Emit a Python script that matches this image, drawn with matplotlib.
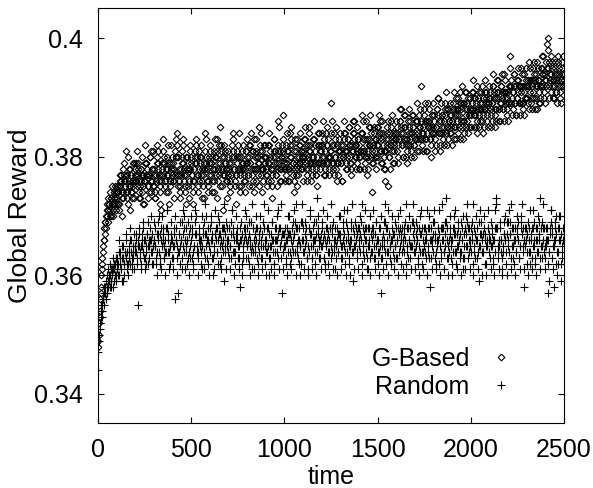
import numpy as np
import matplotlib
matplotlib.use("Agg")
import matplotlib.pyplot as plt

# rewards in units of 1e-3.
# "_a" lists: samples at t = 0, 4, 8, ... ; "_b" lists: samples at t = 2, 6, 10, ...
# (25 values per row = 100 time steps)
gbased_milli_a = [
    348, 350, 353, 356, 358, 361, 363, 365, 366, 367, 369, 368, 370, 371, 369, 372, 371, 370, 373, 372, 371, 374, 372, 373, 371,
    373, 375, 374, 372, 376, 375, 377, 374, 373, 378, 376, 375, 381, 377, 374, 372, 375, 376, 378, 377, 374, 373, 376, 379, 377,
    378, 376, 375, 379, 377, 374, 373, 376, 378, 380, 377, 375, 372, 376, 377, 379, 378, 375, 374, 377, 380, 381, 378, 376, 375,
    377, 374, 373, 376, 379, 381, 378, 377, 375, 371, 376, 378, 377, 380, 379, 376, 374, 377, 378, 382, 379, 376, 375, 378, 377,
    376, 379, 378, 381, 383, 380, 377, 375, 378, 376, 374, 377, 379, 380, 382, 378, 377, 375, 372, 378, 380, 379, 376, 378, 381,
    379, 377, 376, 374, 378, 380, 382, 379, 377, 375, 378, 381, 380, 377, 376, 373, 377, 379, 378, 384, 380, 378, 376, 375, 379,
    381, 379, 377, 380, 378, 376, 374, 378, 380, 383, 381, 378, 377, 375, 379, 382, 380, 378, 371, 377, 379, 381, 378, 376, 377,
    380, 378, 375, 377, 379, 382, 384, 380, 378, 376, 377, 379, 381, 378, 375, 374, 378, 380, 379, 382, 378, 377, 376, 379, 381,
    379, 377, 380, 382, 379, 378, 375, 377, 381, 383, 380, 378, 376, 378, 380, 379, 385, 381, 378, 377, 374, 378, 380, 382, 379,
    378, 380, 377, 376, 379, 382, 380, 378, 375, 377, 380, 383, 381, 379, 377, 378, 386, 381, 379, 376, 378, 380, 382, 387, 379,
    380, 378, 377, 381, 379, 376, 378, 382, 384, 380, 378, 377, 379, 381, 383, 379, 377, 375, 378, 380, 382, 379, 378, 381, 380,
    379, 381, 383, 380, 378, 377, 380, 382, 385, 381, 379, 376, 378, 380, 379, 383, 381, 378, 377, 380, 384, 382, 379, 378, 381,
    380, 382, 379, 377, 378, 381, 384, 382, 380, 379, 377, 380, 389, 381, 379, 378, 382, 384, 380, 378, 376, 379, 381, 383, 380,
    381, 379, 376, 380, 382, 384, 381, 379, 378, 381, 383, 385, 382, 380, 378, 379, 382, 381, 384, 386, 382, 380, 379, 381, 383,
    382, 380, 378, 381, 384, 386, 383, 381, 379, 382, 380, 377, 381, 383, 385, 382, 380, 374, 379, 382, 384, 381, 380, 383, 385,
    382, 380, 383, 386, 384, 381, 379, 382, 380, 378, 381, 383, 385, 382, 375, 380, 382, 384, 386, 383, 381, 379, 382, 384, 383,
    383, 385, 382, 380, 383, 386, 388, 384, 382, 380, 383, 385, 387, 383, 381, 379, 382, 384, 386, 383, 381, 384, 387, 385, 382,
    384, 386, 383, 381, 384, 387, 385, 383, 392, 384, 382, 385, 388, 386, 383, 381, 384, 386, 389, 385, 383, 382, 385, 387, 384,
    385, 387, 384, 382, 385, 388, 390, 386, 384, 381, 384, 387, 385, 383, 386, 389, 387, 384, 382, 385, 388, 386, 384, 387, 385,
    386, 388, 385, 383, 387, 390, 388, 386, 384, 387, 389, 391, 388, 385, 383, 386, 389, 391, 387, 385, 388, 390, 387, 385, 388,
    387, 389, 391, 388, 385, 387, 390, 388, 386, 384, 388, 391, 389, 386, 388, 392, 390, 387, 385, 388, 391, 389, 386, 388, 390,
    389, 391, 388, 386, 389, 392, 390, 387, 385, 388, 391, 393, 390, 388, 386, 389, 392, 390, 388, 391, 394, 391, 389, 387, 390,
    391, 389, 392, 397, 393, 390, 388, 391, 394, 392, 389, 387, 390, 393, 391, 389, 392, 395, 392, 389, 388, 391, 394, 392, 390,
    392, 390, 393, 396, 393, 391, 389, 392, 395, 393, 390, 388, 392, 394, 396, 393, 391, 389, 392, 395, 397, 394, 392, 390, 393,
    394, 392, 395, 398, 400, 396, 393, 391, 394, 396, 393, 390, 392, 395, 393, 391, 394, 397, 395, 392, 390, 393, 396, 394, 392,
    393,
]

gbased_milli_b = [
    349, 352, 354, 357, 360, 362, 364, 366, 368, 369, 370, 372, 371, 373, 372, 370, 374, 373, 375, 372, 370, 373, 375, 374, 372,
    374, 372, 371, 375, 377, 376, 373, 370, 374, 377, 379, 376, 374, 373, 377, 380, 378, 375, 371, 374, 376, 379, 375, 373, 376,
    377, 379, 381, 378, 376, 373, 375, 378, 377, 374, 372, 376, 379, 382, 379, 377, 375, 373, 377, 380, 376, 374, 378, 381, 378,
    375, 373, 377, 380, 382, 379, 376, 374, 372, 377, 379, 381, 383, 379, 376, 375, 378, 380, 377, 374, 372, 376, 379, 382, 380,
    378, 376, 373, 377, 380, 382, 384, 380, 377, 375, 373, 378, 381, 383, 379, 376, 374, 377, 380, 378, 375, 373, 378, 382, 380,
    377, 375, 372, 376, 379, 381, 383, 380, 377, 374, 376, 379, 382, 380, 378, 375, 373, 378, 381, 383, 379, 376, 374, 377, 380,
    382, 379, 376, 374, 378, 381, 383, 380, 377, 373, 376, 379, 382, 385, 381, 378, 375, 377, 380, 382, 379, 376, 373, 378, 381,
    379, 376, 374, 377, 380, 383, 381, 378, 375, 372, 377, 380, 382, 384, 380, 377, 375, 378, 381, 379, 376, 374, 378, 381, 383,
    380, 377, 375, 379, 382, 384, 381, 378, 376, 374, 378, 381, 383, 380, 377, 375, 379, 382, 384, 381, 378, 376, 379, 382, 380,
    377, 375, 379, 382, 384, 381, 378, 376, 373, 378, 381, 383, 380, 377, 375, 379, 382, 385, 381, 378, 376, 380, 383, 381, 378,
    376, 379, 382, 384, 381, 378, 376, 380, 383, 385, 382, 379, 376, 374, 378, 381, 383, 380, 377, 379, 382, 384, 381, 378, 376,
    380, 383, 385, 382, 379, 376, 378, 381, 384, 382, 379, 377, 380, 383, 386, 382, 379, 377, 375, 379, 382, 384, 381, 379, 382,
    384, 386, 383, 380, 377, 379, 382, 385, 383, 380, 378, 381, 384, 386, 382, 379, 377, 380, 383, 385, 382, 379, 377, 381, 384,
    382, 379, 376, 380, 383, 386, 384, 381, 378, 380, 383, 385, 382, 379, 377, 381, 384, 386, 383, 380, 378, 382, 385, 383, 380,
    378, 381, 384, 387, 384, 381, 378, 380, 383, 386, 383, 380, 378, 382, 385, 387, 384, 381, 379, 382, 385, 383, 380, 378, 382,
    385, 387, 384, 381, 379, 383, 386, 384, 381, 378, 376, 381, 384, 386, 383, 380, 378, 382, 385, 387, 384, 381, 379, 383, 386,
    384, 381, 379, 383, 386, 388, 385, 382, 380, 384, 387, 385, 382, 380, 383, 386, 388, 385, 382, 380, 384, 387, 385, 382, 380,
    383, 386, 389, 386, 383, 381, 385, 388, 386, 383, 381, 384, 387, 389, 386, 383, 381, 385, 388, 386, 383, 380, 384, 387, 389,
    386, 383, 381, 385, 388, 390, 387, 384, 382, 386, 389, 387, 384, 382, 385, 388, 391, 388, 385, 383, 386, 389, 387, 384, 382,
    386, 389, 391, 388, 385, 383, 387, 390, 388, 385, 383, 386, 389, 392, 389, 386, 384, 388, 391, 389, 386, 384, 387, 390, 388,
    385, 388, 391, 393, 390, 387, 385, 389, 392, 390, 387, 385, 388, 391, 389, 386, 384, 388, 391, 393, 390, 387, 385, 389, 392,
    390, 387, 385, 389, 392, 394, 391, 388, 386, 390, 393, 391, 388, 386, 389, 392, 394, 391, 388, 386, 390, 393, 391, 388, 386,
    389, 392, 395, 392, 389, 387, 391, 394, 392, 389, 387, 390, 393, 395, 392, 389, 387, 391, 394, 392, 389, 387, 390, 393, 395,
    392, 389, 388, 392, 395, 393, 390, 388, 391, 394, 396, 393, 390, 388, 392, 395, 393, 390, 389, 392, 395, 397, 394, 391, 389,
    393, 396, 399, 395, 392, 390, 394, 397, 395, 392, 390, 393, 396, 394, 391, 389, 393, 396, 394, 391, 389, 392, 395, 397, 394,
]

random_milli_a = [
    344, 349, 351, 352, 354, 353, 355, 356, 355, 357, 358, 356, 357, 359, 358, 360, 358, 359, 361, 360, 358, 361, 362, 360, 359,
    361, 363, 362, 360, 364, 362, 361, 365, 363, 359, 362, 364, 366, 363, 361, 362, 365, 364, 362, 366, 363, 361, 364, 367, 365,
    364, 366, 363, 355, 365, 367, 364, 362, 365, 366, 368, 364, 363, 366, 362, 365, 367, 369, 365, 363, 366, 364, 362, 367, 365,
    366, 368, 365, 363, 367, 369, 366, 364, 362, 366, 368, 370, 367, 365, 363, 366, 364, 368, 371, 366, 364, 362, 365, 367, 366,
    365, 363, 367, 356, 366, 368, 365, 357, 364, 367, 369, 366, 363, 361, 365, 368, 370, 366, 364, 362, 366, 369, 367, 365, 363,
    366, 368, 364, 362, 365, 367, 370, 367, 365, 363, 366, 368, 366, 364, 361, 365, 367, 369, 372, 367, 365, 363, 366, 368, 365,
    364, 366, 369, 367, 363, 361, 365, 367, 366, 364, 368, 370, 367, 365, 362, 366, 368, 366, 364, 359, 365, 367, 369, 366, 364,
    366, 368, 365, 363, 367, 371, 368, 366, 364, 362, 366, 368, 367, 365, 363, 358, 366, 369, 367, 365, 363, 366, 368, 370, 366,
    365, 363, 367, 369, 366, 364, 361, 365, 368, 366, 364, 367, 370, 368, 365, 362, 366, 368, 365, 363, 367, 369, 372, 368, 365,
    364, 366, 368, 365, 363, 360, 365, 367, 369, 366, 364, 362, 366, 368, 366, 364, 367, 371, 368, 365, 363, 366, 357, 367, 365,
    367, 365, 363, 366, 368, 370, 367, 364, 362, 366, 368, 366, 364, 367, 369, 372, 368, 365, 363, 366, 368, 365, 362, 366, 369,
    366, 364, 367, 369, 366, 363, 361, 365, 368, 370, 367, 365, 363, 366, 368, 366, 364, 367, 369, 373, 368, 365, 363, 366, 367,
    365, 368, 366, 363, 362, 366, 368, 370, 367, 364, 366, 368, 365, 363, 367, 369, 366, 364, 361, 365, 368, 366, 364, 367, 370,
    367, 365, 363, 366, 368, 365, 362, 366, 369, 371, 367, 365, 363, 366, 368, 366, 364, 359, 365, 367, 369, 366, 364, 367, 368,
    366, 364, 367, 369, 372, 368, 365, 363, 366, 368, 366, 363, 361, 365, 368, 370, 367, 364, 366, 368, 365, 363, 367, 369, 366,
    364, 366, 368, 365, 363, 357, 365, 367, 369, 366, 364, 362, 366, 368, 371, 367, 365, 363, 366, 368, 366, 364, 367, 369, 365,
    363, 366, 368, 370, 367, 365, 362, 366, 368, 366, 364, 367, 369, 372, 368, 365, 363, 366, 368, 365, 361, 365, 367, 369, 366,
    364, 367, 369, 366, 363, 365, 368, 370, 367, 364, 362, 366, 368, 366, 364, 367, 371, 368, 365, 363, 358, 366, 368, 366, 364,
    367, 369, 366, 364, 362, 366, 368, 371, 367, 365, 363, 366, 368, 366, 364, 367, 369, 373, 368, 365, 363, 366, 368, 365, 363,
    366, 368, 370, 367, 364, 362, 365, 367, 369, 366, 364, 367, 369, 366, 363, 361, 365, 368, 370, 367, 365, 363, 366, 368, 366,
    364, 367, 369, 372, 368, 365, 363, 366, 368, 366, 364, 359, 365, 367, 369, 366, 364, 367, 370, 367, 365, 362, 366, 368, 366,
    364, 366, 369, 367, 365, 363, 366, 368, 371, 373, 368, 365, 363, 366, 368, 366, 364, 361, 365, 367, 369, 366, 364, 367, 369,
    366, 364, 367, 369, 372, 368, 365, 363, 366, 368, 366, 364, 367, 369, 366, 363, 365, 368, 370, 367, 365, 358, 366, 368, 366,
    364, 367, 369, 366, 364, 362, 366, 368, 371, 368, 365, 363, 366, 368, 366, 364, 367, 369, 373, 368, 365, 363, 366, 368, 365,
    363, 366, 368, 366, 357, 364, 367, 369, 371, 368, 365, 358, 366, 368, 370, 367, 364, 362, 366, 368, 370, 367, 365, 363, 366,
    367,
]

random_milli_b = [
    347, 350, 352, 353, 355, 354, 356, 357, 358, 357, 359, 360, 358, 361, 359, 362, 360, 358, 361, 363, 361, 359, 362, 360, 363,
    362, 360, 364, 366, 363, 361, 359, 363, 365, 362, 360, 364, 367, 364, 362, 360, 363, 366, 368, 364, 362, 365, 363, 361, 365,
    367, 364, 362, 366, 368, 365, 363, 361, 365, 367, 369, 366, 363, 361, 364, 367, 365, 362, 366, 368, 370, 366, 364, 362, 366,
    369, 365, 362, 360, 364, 367, 370, 367, 363, 361, 365, 368, 366, 363, 360, 364, 368, 371, 367, 364, 361, 365, 369, 366, 363,
    361, 365, 368, 370, 366, 363, 360, 364, 367, 365, 362, 366, 369, 371, 367, 364, 361, 365, 368, 366, 363, 360, 364, 368, 370,
    367, 363, 361, 365, 369, 371, 367, 364, 360, 364, 367, 365, 362, 366, 370, 368, 364, 361, 363, 367, 370, 366, 362, 360, 365,
    368, 370, 366, 363, 360, 364, 367, 371, 368, 364, 362, 366, 369, 367, 363, 361, 365, 368, 372, 368, 364, 361, 365, 368, 366,
    363, 361, 365, 369, 371, 367, 364, 360, 364, 367, 370, 366, 363, 361, 365, 368, 366, 362, 360, 364, 368, 371, 367, 363, 365,
    368, 366, 362, 360, 365, 369, 372, 368, 364, 361, 365, 368, 366, 363, 360, 364, 367, 370, 366, 363, 361, 365, 368, 366, 362,
    360, 364, 368, 371, 367, 363, 361, 365, 369, 366, 362, 360, 364, 368, 370, 366, 363, 361, 365, 368, 372, 367, 364, 361, 365,
    368, 366, 362, 360, 364, 367, 370, 367, 363, 361, 365, 369, 371, 367, 364, 360, 364, 368, 366, 362, 360, 365, 369, 372, 368,
    364, 361, 365, 368, 366, 363, 360, 364, 368, 371, 367, 363, 361, 365, 369, 366, 362, 360, 364, 367, 370, 366, 363, 361, 365,
    369, 371, 367, 363, 361, 365, 368, 366, 362, 360, 364, 368, 372, 368, 364, 361, 365, 368, 366, 363, 360, 364, 367, 370, 366,
    363, 361, 365, 369, 371, 367, 364, 360, 364, 368, 366, 362, 360, 365, 369, 372, 368, 364, 361, 365, 368, 366, 363, 361, 365,
    368, 370, 366, 362, 360, 364, 367, 371, 368, 364, 361, 365, 368, 366, 363, 360, 364, 368, 371, 367, 363, 361, 365, 369, 366,
    362, 360, 364, 368, 370, 366, 363, 361, 365, 369, 372, 368, 364, 360, 364, 367, 365, 362, 366, 370, 367, 363, 361, 365, 368,
    366, 363, 360, 364, 368, 371, 367, 364, 361, 365, 368, 366, 362, 360, 364, 368, 370, 366, 363, 361, 365, 369, 372, 368, 364,
    361, 365, 368, 366, 362, 360, 364, 367, 371, 368, 364, 361, 365, 368, 366, 363, 360, 364, 368, 370, 366, 363, 361, 365, 369,
    371, 367, 363, 361, 365, 368, 366, 362, 360, 364, 368, 372, 368, 364, 361, 365, 369, 366, 363, 360, 364, 367, 370, 366, 362,
    360, 364, 368, 371, 367, 364, 361, 365, 368, 366, 363, 360, 364, 368, 370, 367, 363, 361, 365, 369, 372, 368, 364, 361, 365,
    368, 366, 362, 360, 364, 367, 370, 366, 363, 361, 365, 369, 371, 367, 364, 360, 364, 368, 366, 362, 360, 365, 368, 371, 367,
    363, 361, 365, 368, 366, 362, 360, 364, 368, 372, 368, 364, 361, 365, 369, 366, 363, 360, 364, 367, 370, 366, 362, 360, 365,
    369, 371, 367, 363, 361, 365, 368, 366, 362, 360, 364, 368, 370, 366, 363, 361, 365, 369, 372, 368, 364, 361, 365, 368, 366,
    362, 360, 364, 368, 371, 367, 363, 361, 365, 369, 366, 362, 360, 364, 368, 370, 366, 363, 361, 365, 369, 372, 368, 364, 361,
    365, 368, 366, 362, 359, 364, 368, 371, 367, 363, 361, 365, 369, 366, 362, 360, 364, 368, 370, 366, 362, 359, 364, 368, 366,
]

t_ga = 4 * np.arange(len(gbased_milli_a))
t_gb = 2 + 4 * np.arange(len(gbased_milli_b))
t_ra = 4 * np.arange(len(random_milli_a))
t_rb = 2 + 4 * np.arange(len(random_milli_b))

t_gbased = np.concatenate([t_ga, t_gb])
gbased = np.array(gbased_milli_a + gbased_milli_b) / 1e3
t_random = np.concatenate([t_ra, t_rb])
random_r = np.array(random_milli_a + random_milli_b) / 1e3

plt.rcParams['font.family'] = ['Liberation Sans', 'DejaVu Sans']

fig = plt.figure(figsize=(5.93, 4.88), dpi=100)
ax = fig.add_axes([0.1653, 0.1332, 0.7857, 0.8504])

ax.plot(t_gbased, gbased, linestyle='none', marker='D', markersize=3.4,
        markerfacecolor='none', markeredgecolor='black', markeredgewidth=0.8,
        label='G-Based')
ax.plot(t_random, random_r, linestyle='none', marker='+', markersize=5.5,
        color='black', markeredgewidth=0.8, label='Random')

ax.set_xlim(0, 2500)
ax.set_ylim(0.3351, 0.4051)
ax.set_xticks([0, 500, 1000, 1500, 2000, 2500])
ax.set_yticks([0.34, 0.36, 0.38, 0.40])
ax.set_yticklabels(['0.34', '0.36', '0.38', '0.4'])
ax.tick_params(direction='in', top=True, right=True, length=4.5, width=0.8,
               labelsize=18)
ax.tick_params(axis='y', pad=11)
ax.tick_params(axis='x', pad=11)
for s in ax.spines.values():
    s.set_linewidth(0.8)

ax.set_xlabel('time', fontsize=18, labelpad=2)
ax.set_ylabel('Global Reward', fontsize=19, labelpad=1)

ax.legend(loc='lower right', bbox_to_anchor=(0.881, 0.058), frameon=False,
          markerfirst=False, numpoints=1, handlelength=0.6,
          handletextpad=0.95, labelspacing=0.17, fontsize=18,
          borderaxespad=0, borderpad=0)

fig.savefig('out.png', dpi=100)
